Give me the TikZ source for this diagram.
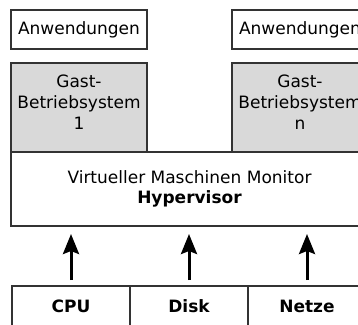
\documentclass[tikz,border=0pt]{standalone}
\usepackage{fontspec}
\setmainfont{DejaVu Sans}
\usetikzlibrary{arrows.meta,positioning,calc}

\begin{document}
\begin{tikzpicture}[x=1pt,y=-1pt,line width=1.6pt,font=\fontsize{17}{21}\selectfont]
  \tikzstyle{box}=[draw=black!80,fill=white,inner sep=0pt,outer sep=0pt,align=center]
  \tikzstyle{appbox}=[box,minimum width=136pt,minimum height=39pt]
  \tikzstyle{gastbox}=[box,fill=black!15,minimum width=136pt,minimum height=89pt]
  \tikzstyle{hwbox}=[box,minimum width=118pt,minimum height=40pt,font=\fontsize{17}{21}\selectfont\bfseries]
  \tikzstyle{up}=[-{Stealth[length=20pt,width=16pt,inset=3pt]},line width=3pt,shorten <=6pt,shorten >=8pt]

  \useasboundingbox (0,0) rectangle (358,324);
  \clip (0,0) rectangle (358,324);

  % Gastsysteme
  \node[appbox] (app1) at (79,29.5) {Anwendungen};
  \node[appbox] (appn) at (300,29.5) {Anwendungen};
  \node[gastbox] (gast1) at (79,107.5) {};
  \node[gastbox] (gastn) at (300,107.5) {};
  \node[align=center] at ([yshift=5pt]gast1.center) {Gast-\\Betriebsystem\\1};
  \node[align=center] at ([yshift=5pt]gastn.center) {Gast-\\Betriebsystem\\n};

  % VMM
  \node[box,minimum width=357pt,minimum height=74pt,text depth=3pt,align=center] (hyp) at (189.5,189)
    {Virtueller Maschinen Monitor\\[-1pt]\textbf{Hypervisor}};

  % Hardware
  \node[hwbox] (cpu) at (71,306) {CPU};
  \node[hwbox,right=0pt of cpu] (disk) {Disk};
  \node[hwbox,right=0pt of disk] (netz) {Netze};

  \foreach \hw in {cpu,disk,netz}
    \draw[up] (\hw.north) -- (\hw.north |- hyp.south);
\end{tikzpicture}
\end{document}
